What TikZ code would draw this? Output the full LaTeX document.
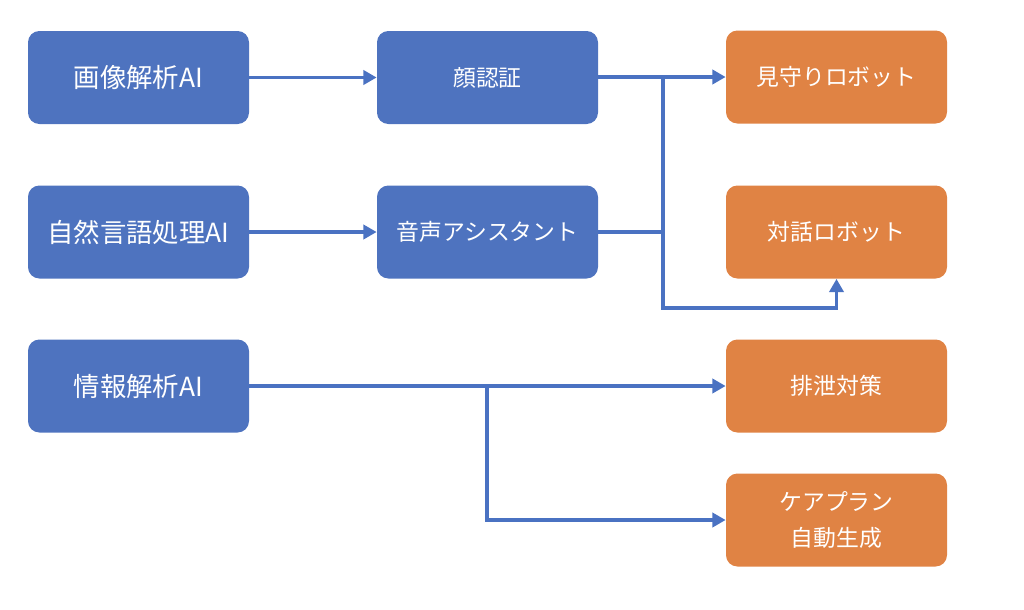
\documentclass[tikz,border=0pt]{standalone}
\usepackage{fontspec}
\setmainfont{Noto Sans CJK JP}
\usetikzlibrary{arrows.meta}
\definecolor{boxblue}{HTML}{4E73BF}
\definecolor{boxorange}{HTML}{E08344}
\definecolor{linkblue}{HTML}{4A72C2}
\tikzset{
  srcbox/.style={draw=none, fill=boxblue, rounded corners=6.5pt, minimum width=221*0.02cm, minimum height=93*0.02cm, text=white, font=\fontsize{15}{18}\selectfont, inner sep=0pt},
  midbox/.style={srcbox, font=\fontsize{13}{16}\selectfont},
  outbox/.style={midbox, fill=boxorange, align=center, font=\fontsize{13}{20}\selectfont},
  link/.style={draw=linkblue, line width=2pt},
  arr/.style={link, -{Triangle[length=7.5pt,width=8pt]}}
}
\begin{document}
\begin{tikzpicture}[x=0.02cm,y=-0.02cm]
\useasboundingbox (0,0) rectangle (1024,609);
\node[srcbox] (img) at (138.5,77.5) {画像解析AI};
\node[srcbox] (nlp) at (138.5,232) {自然言語処理AI};
\node[srcbox] (info) at (138.5,386) {情報解析AI};
\node[midbox] (face) at (487.5,77.5) {顔認証};
\node[midbox] (voice) at (487.5,232) {音声アシスタント};
\node[outbox] (watch) at (836.5,77) {見守りロボット};
\node[outbox] (talk) at (836.5,232) {対話ロボット};
\node[outbox] (excr) at (836.5,386) {排泄対策};
\node[outbox] (care) at (836.5,520) {ケアプラン\\自動生成};
\coordinate (j1) at (663,77);
\coordinate (j2) at (663,232);
\coordinate (j3) at (663,308);
\coordinate (j4) at (836.5,308);
\coordinate (k1) at (487,386);
\coordinate (k2) at (487,520);
\draw[arr] (img.east) -- (face.west);
\draw[arr] (nlp.east) -- (voice.west);
\draw[arr] (face.east |- j1) -- (watch.west |- j1);
\draw[link] (voice.east) -- (j2);
\draw[arr] (j1) -- (j3) -- (j4) -- (talk.south);
\draw[arr] (info.east) -- (excr.west);
\draw[arr] (k1) -- (k2) -- (care.west);
\end{tikzpicture}
\end{document}
